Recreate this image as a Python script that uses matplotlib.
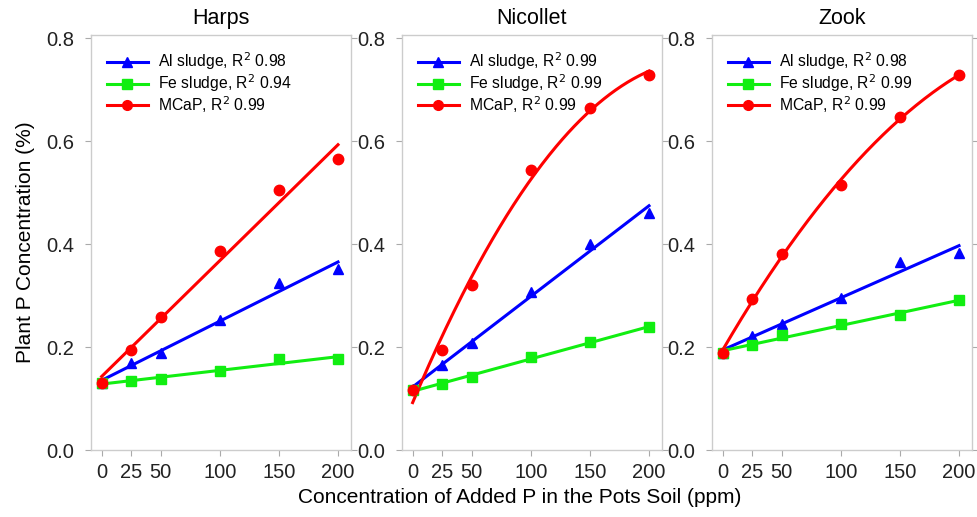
import numpy as np
import matplotlib
matplotlib.use("Agg")
import matplotlib.pyplot as plt
from matplotlib.lines import Line2D

plt.rcParams['font.family'] = ['Liberation Sans', 'DejaVu Sans']

x = [0, 25, 50, 100, 150, 200]
x_ticks = [0, 25, 50, 100, 150, 200]
y_ticks = [0.0, 0.2, 0.4, 0.6, 0.8]
soils = ["Harps", "Nicollet", "Zook"]

al_harps = [0.130, 0.168, 0.188, 0.252, 0.325, 0.352]
fe_harps = [0.130, 0.134, 0.138, 0.153, 0.176, 0.177]
mc_harps = [0.130, 0.194, 0.258, 0.386, 0.504, 0.566]

al_nic = [0.118, 0.165, 0.207, 0.307, 0.401, 0.460]
fe_nic = [0.116, 0.129, 0.141, 0.180, 0.210, 0.238]
mc_nic = [0.116, 0.195, 0.321, 0.544, 0.665, 0.729]

al_zook = [0.189, 0.221, 0.244, 0.295, 0.365, 0.383]
fe_zook = [0.189, 0.203, 0.224, 0.245, 0.262, 0.291]
mc_zook = [0.189, 0.294, 0.381, 0.515, 0.647, 0.728]

r2 = {
    "Harps": ["0.98", "0.94", "0.99"],
    "Nicollet": ["0.99", "0.99", "0.99"],
    "Zook": ["0.98", "0.99", "0.99"],
}
data = {
    "Harps": [al_harps, fe_harps, mc_harps],
    "Nicollet": [al_nic, fe_nic, mc_nic],
    "Zook": [al_zook, fe_zook, mc_zook],
}
# polynomial degree of the fitted curve for each series
fit_deg = {
    "Harps": [1, 1, 1],
    "Nicollet": [1, 1, 2],
    "Zook": [1, 1, 2],
}
names = ["Al sludge", "Fe sludge", "MCaP"]
colors = ["#0000ff", "#11ee11", "#ff0000"]
markers = ["^", "s", "o"]

fig = plt.figure(figsize=(9.77, 5.17), dpi=100)
W, H = 977, 517
lefts = [91, 402, 712]
pw = 260
top, bottom = 35, 450

xs = np.linspace(0, 200, 200)
for i, soil in enumerate(soils):
    ax = fig.add_axes([lefts[i] / W, (H - bottom) / H, pw / W, (bottom - top) / H])
    handles = []
    for j in range(3):
        y = data[soil][j]
        coef = np.polyfit(x, y, fit_deg[soil][j])
        ax.plot(xs, np.polyval(coef, xs), color=colors[j], lw=2.2, zorder=2)
        ax.plot(x, y, linestyle='none', marker=markers[j], color=colors[j],
                markersize=7.5, zorder=3)
        handles.append(Line2D([], [], color=colors[j], lw=2.2, marker=markers[j],
                              markersize=7,
                              label=f"{names[j]}, R$^2$ {r2[soil][j]}"))
    ax.set_xlim(-9, 211)
    ax.set_ylim(0, 0.806)
    ax.set_xticks(x_ticks)
    ax.set_yticks(y_ticks)
    ax.set_yticklabels([f"{v:.1f}" for v in y_ticks])
    for sp in ax.spines.values():
        sp.set_color('#cccccc')
        sp.set_linewidth(1.0)
    ax.tick_params(axis='both', labelsize=14.5, color='#aaaaaa', length=4,
                   direction='out', labelcolor='#222222')
    ax.tick_params(axis='y', right=True, pad=8)
    ax.tick_params(axis='x', pad=5)
    ax.set_title(soil, fontsize=15.5, pad=8)
    ax.legend(handles=handles, loc='upper left', frameon=False, fontsize=11.3,
              handlelength=2.65, labelspacing=0.0, borderaxespad=0.6,
              handletextpad=0.6)
    if i == 0:
        ax.set_ylabel("Plant P Concentration (%)", fontsize=15, labelpad=8)

fig.text(0.532, 0.02, "Concentration of Added P in the Pots Soil (ppm)",
         fontsize=15, ha='center', va='bottom')

fig.savefig("out.png", dpi=100)
